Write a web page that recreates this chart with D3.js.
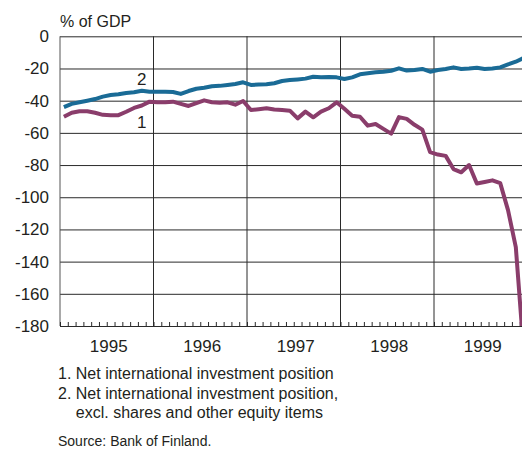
<!DOCTYPE html>
<html>
<head>
<meta charset="utf-8">
<script src="https://cdn.jsdelivr.net/npm/d3@7"></script>
<style>
  body { margin: 0; background: #fff; }
  svg { display: block; font-family: 'Liberation Sans', Arial, sans-serif; }
</style>
</head>
<body>
<div id="chart"></div>
<script>
const WIDTH = 522, HEIGHT = 451
const MARGIN = { top: 36.3, left: 60 }
const PLOT_H = 289.7
const YEAR_W = 93.5

// ── data (monthly, Jan 1995 – Dec 1999, % of GDP) ───────────────
const years = [1995, 1996, 1997, 1998, 1999]
const yTicks = [0, -20, -40, -60, -80, -100, -120, -140, -160, -180]

const netPosition = [
  -50, -47.5, -46.6, -46.6, -47.5, -48.8, -49, -49, -46.9, -44.5, -43, -40.6,
  -41, -41, -40.6, -42, -43.3, -41.5, -39.8, -41, -41.3, -41, -42.5, -40.2,
  -45.8, -45.3, -44.7, -45.5, -45.8, -46.2, -51, -46.8, -50.3, -46.8, -44.7, -41,
  -45, -49.3, -50, -55.5, -54.5, -57.5, -60.5, -50.2, -51.3, -55, -58, -72,
  -73.5, -74.3, -82.5, -84.5, -80, -91.5, -90.5, -89.5, -91.2, -108, -131, -195
]
const netPositionExEquity = [
  -44, -42, -41, -40, -39, -37.5, -36.5, -36, -35.2, -34.8, -33.8, -34.5,
  -34.5, -34.5, -34.6, -35.8, -34, -32.6, -32, -31, -30.8, -30.2, -29.6, -28.6,
  -30.2, -30, -29.8, -29.2, -27.8, -27.2, -26.8, -26.3, -25.1, -25.5, -25.3, -25.5,
  -26.5, -25.5, -23.6, -23, -22.3, -22, -21.4, -19.9, -21.3, -21, -20.3, -22,
  -20.9, -20.3, -19.3, -20.3, -20, -19.5, -20.3, -20, -19.3, -17.5, -15.8, -13.5
]

const legendLines = [
  '1. Net international investment position',
  '2. Net international investment position,',
  '    excl. shares and other equity items'
]
const source = 'Source: Bank of Finland.'

const COLORS = { s1: '#8a3d6b', s2: '#1a6b96', ink: '#231f20', grid: '#2a2a2a' }

// ── scales ───────────────────────────────────────────────────────
const x = d3.scaleLinear()
  .domain([years[0], years[years.length - 1] + 1])
  .range([MARGIN.left, MARGIN.left + YEAR_W * years.length])
const y = d3.scaleLinear().domain([-180, 0]).range([MARGIN.top + PLOT_H, MARGIN.top])

const monthPos = i => years[0] + (i + 0.5) / 12

const svg = d3.select('#chart').append('svg')
  .attr('width', WIDTH).attr('height', HEIGHT)

svg.append('defs').append('clipPath').attr('id', 'plot-clip')
  .append('rect')
  .attr('x', MARGIN.left).attr('y', MARGIN.top - 4)
  .attr('width', WIDTH - MARGIN.left).attr('height', PLOT_H + 4)

// ── horizontal grid + y labels ───────────────────────────────────
const gY = svg.append('g')
  .attr('transform', `translate(${MARGIN.left},0)`)
  .call(d3.axisLeft(y).tickValues(yTicks).tickFormat(d => String(d))
    .tickSize(-(WIDTH - MARGIN.left)).tickPadding(11))
gY.select('.domain').remove()
gY.selectAll('.tick line').attr('stroke', COLORS.grid).attr('stroke-width', 1)
gY.selectAll('.tick text')
  .attr('fill', COLORS.ink).style('font-size', '17px')

// left edge
svg.append('line')
  .attr('x1', MARGIN.left).attr('x2', MARGIN.left)
  .attr('y1', y(0)).attr('y2', y(-180))
  .attr('stroke', '#555').attr('stroke-width', 1)

// year separators
svg.append('g').selectAll('line')
  .data(years.slice(1))
  .join('line')
  .attr('x1', d => x(d)).attr('x2', d => x(d))
  .attr('y1', y(0)).attr('y2', y(-180))
  .attr('stroke', COLORS.grid).attr('stroke-width', 1)

// month ticks on bottom axis
const gX = svg.append('g')
  .attr('transform', `translate(0,${y(-180)})`)
  .call(d3.axisBottom(x)
    .tickValues(d3.range(0, 12 * years.length + 1).map(i => years[0] + i / 12))
    .tickSize(-4).tickFormat(''))
gX.select('.domain').remove()
gX.selectAll('.tick line').attr('stroke', COLORS.grid)

// year labels
svg.append('g').selectAll('text')
  .data(years)
  .join('text')
  .attr('x', d => x(d + 0.5) + 2)
  .attr('y', 351.5)
  .attr('text-anchor', 'middle')
  .attr('fill', COLORS.ink)
  .style('font-size', '17px')
  .text(d => d)

// ── lines ────────────────────────────────────────────────────────
const line = d3.line()
  .x((d, i) => x(monthPos(i)))
  .y(d => y(d))

const gLines = svg.append('g').attr('clip-path', 'url(#plot-clip)')
gLines.append('path')
  .datum(netPositionExEquity)
  .attr('d', line)
  .attr('fill', 'none')
  .attr('stroke', COLORS.s2)
  .attr('stroke-width', 4)
  .attr('stroke-linejoin', 'round')
gLines.append('path')
  .datum(netPosition)
  .attr('d', line)
  .attr('fill', 'none')
  .attr('stroke', COLORS.s1)
  .attr('stroke-width', 4)
  .attr('stroke-linejoin', 'round')

// series labels
svg.append('text')
  .attr('x', x(monthPos(10))).attr('y', y(-30))
  .attr('text-anchor', 'middle').attr('fill', COLORS.ink)
  .style('font-size', '17px').text('2')
svg.append('text')
  .attr('x', x(monthPos(10))).attr('y', y(-57))
  .attr('text-anchor', 'middle').attr('fill', COLORS.ink)
  .style('font-size', '17px').text('1')

// ── titles, legend, source ───────────────────────────────────────
svg.append('text')
  .attr('x', 60).attr('y', 26.5)
  .attr('fill', COLORS.ink)
  .style('font-size', '16px')
  .text('% of GDP')

svg.append('g').selectAll('text')
  .data(legendLines)
  .join('text')
  .attr('x', 58)
  .attr('y', (d, i) => 379 + i * 19.5)
  .attr('fill', COLORS.ink)
  .style('font-size', '16px')
  .style('white-space', 'pre')
  .attr('xml:space', 'preserve')
  .text(d => d)

svg.append('text')
  .attr('x', 58).attr('y', 446)
  .attr('fill', COLORS.ink)
  .style('font-size', '14px')
  .text(source)
</script>
</body>
</html>
